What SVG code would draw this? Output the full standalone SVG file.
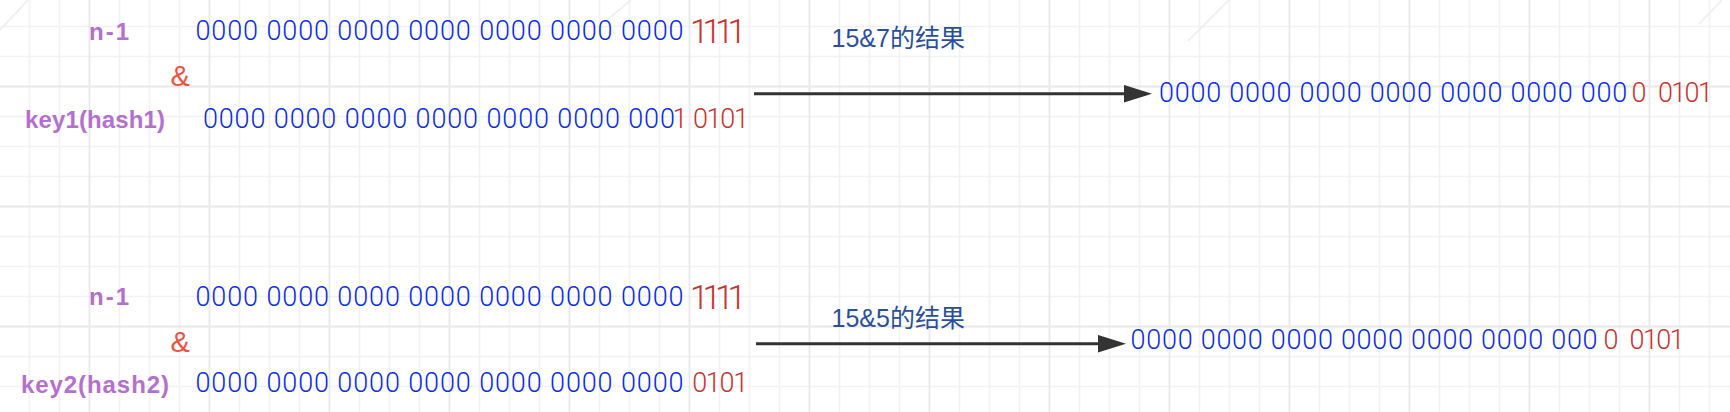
<svg xmlns="http://www.w3.org/2000/svg" width="1730" height="412" viewBox="0 0 1730 412">
<style>
.gmin{fill:none;stroke:#f2f2f2;stroke-width:1.6}
.gmaj{fill:none;stroke:#e8e8e8;stroke-width:1.8}
.diag{fill:none;stroke:#ededed;stroke-width:1.6}
.lbl{font-family:"Liberation Sans",Arial,sans-serif;font-weight:bold;font-size:24px;fill:#b370cf}
.amp{font-family:"Liberation Sans",Arial,sans-serif;font-size:29px;fill:#e8553e}
.bits{font-family:Roboto,"Liberation Sans",sans-serif;font-weight:300;font-size:27px;fill:#0a2bf0}
.red{font-family:Roboto,"Liberation Sans",sans-serif;font-weight:300;font-size:27px;fill:#c9332e}
.big{font-family:Roboto,"Liberation Sans",sans-serif;font-weight:300;font-size:34px;fill:#c9332e;letter-spacing:-6.4px}
.cap{font-family:"Liberation Sans","Noto Sans CJK SC",sans-serif;font-size:25px;fill:#2b4f9c}
.conn{fill:none;stroke:#333333;stroke-width:3}
</style>
<defs>
<marker id="arrow" markerUnits="userSpaceOnUse" markerWidth="30" markerHeight="20" refX="2" refY="8.75" orient="auto">
<path d="M0,0 L28,8.75 L0,17.5 Z" fill="#333333"/>
</marker>
</defs>
<rect x="0" y="0" width="1730" height="412" fill="#ffffff"/>
<g id="grid">
<path class="gmin" d="M29.5 0V412M59.5 0V412M119.5 0V412M149.5 0V412M179.5 0V412M239.5 0V412M269.5 0V412M299.5 0V412M359.5 0V412M389.5 0V412M419.5 0V412M479.5 0V412M509.5 0V412M539.5 0V412M599.5 0V412M629.5 0V412M659.5 0V412M719.5 0V412M749.5 0V412M779.5 0V412M839.5 0V412M869.5 0V412M899.5 0V412M959.5 0V412M989.5 0V412M1019.5 0V412M1079.5 0V412M1109.5 0V412M1139.5 0V412M1199.5 0V412M1229.5 0V412M1259.5 0V412M1319.5 0V412M1349.5 0V412M1379.5 0V412M1439.5 0V412M1469.5 0V412M1499.5 0V412M1559.5 0V412M1589.5 0V412M1619.5 0V412M1679.5 0V412M1709.5 0V412M0 26.5H1730M0 56.5H1730M0 116.5H1730M0 146.5H1730M0 176.5H1730M0 236.5H1730M0 266.5H1730M0 296.5H1730M0 356.5H1730M0 386.5H1730"/>
<path class="gmaj" d="M89.5 0V412M209.5 0V412M329.5 0V412M449.5 0V412M569.5 0V412M689.5 0V412M809.5 0V412M929.5 0V412M1049.5 0V412M1169.5 0V412M1289.5 0V412M1409.5 0V412M1529.5 0V412M1649.5 0V412M0 86.5H1730M0 206.5H1730M0 326.5H1730"/>
<path class="diag" d="M0 30L28 0M606 21L631 0M1188 41L1229 0M1699 24L1722 0"/>
</g>
<g id="connectors">
<line class="conn" x1="754" y1="93.7" x2="1126" y2="93.7" marker-end="url(#arrow)"/>
<line class="conn" x1="756" y1="343.7" x2="1100" y2="343.7" marker-end="url(#arrow)"/>
</g>
<g id="top-n1">
<text class="lbl" x="89" y="40" letter-spacing="2">n-1</text>
<text class="bits" x="195.5" y="40" textLength="488">0000 0000 0000 0000 0000 0000 0000</text>
<text class="big" x="690" y="42.7">1111</text>
</g>
<g id="top-and">
<text class="amp" x="170.5" y="85.5">&amp;</text>
</g>
<g id="top-key1">
<text class="lbl" x="25" y="127.8" textLength="140">key1(hash1)</text>
<text class="bits" x="202.9" y="128.3" textLength="472">0000 0000 0000 0000 0000 0000 000</text>
<text class="red" x="672.4" y="128.3">1</text>
<text class="red" x="692.9" y="128.3" textLength="56">0101</text>
</g>
<g id="top-caption">
<text class="cap" x="831.5" y="46.5">15&amp;7的结果</text>
</g>
<g id="top-result">
<text class="bits" x="1158.9" y="101.7" textLength="468.4">0000 0000 0000 0000 0000 0000 000</text>
<text class="red" x="1631.5" y="101.7">0</text>
<text class="red" x="1657.9" y="101.7" textLength="55">0101</text>
</g>
<g id="bottom-n1">
<text class="lbl" x="89" y="305" letter-spacing="2">n-1</text>
<text class="bits" x="195.5" y="305.7" textLength="488">0000 0000 0000 0000 0000 0000 0000</text>
<text class="big" x="690" y="309.3">1111</text>
</g>
<g id="bottom-and">
<text class="amp" x="170.5" y="351.5">&amp;</text>
</g>
<g id="bottom-key2">
<text class="lbl" x="21" y="392.5" textLength="148">key2(hash2)</text>
<text class="bits" x="195.5" y="391.7" textLength="488">0000 0000 0000 0000 0000 0000 0000</text>
<text class="red" x="692.2" y="391.7" textLength="56">0101</text>
</g>
<g id="bottom-caption">
<text class="cap" x="831.5" y="327">15&amp;5的结果</text>
</g>
<g id="bottom-result">
<text class="bits" x="1130.6" y="349.3" textLength="467">0000 0000 0000 0000 0000 0000 000</text>
<text class="red" x="1603.5" y="349.3">0</text>
<text class="red" x="1629.6" y="349.3" textLength="55">0101</text>
</g>
</svg>
